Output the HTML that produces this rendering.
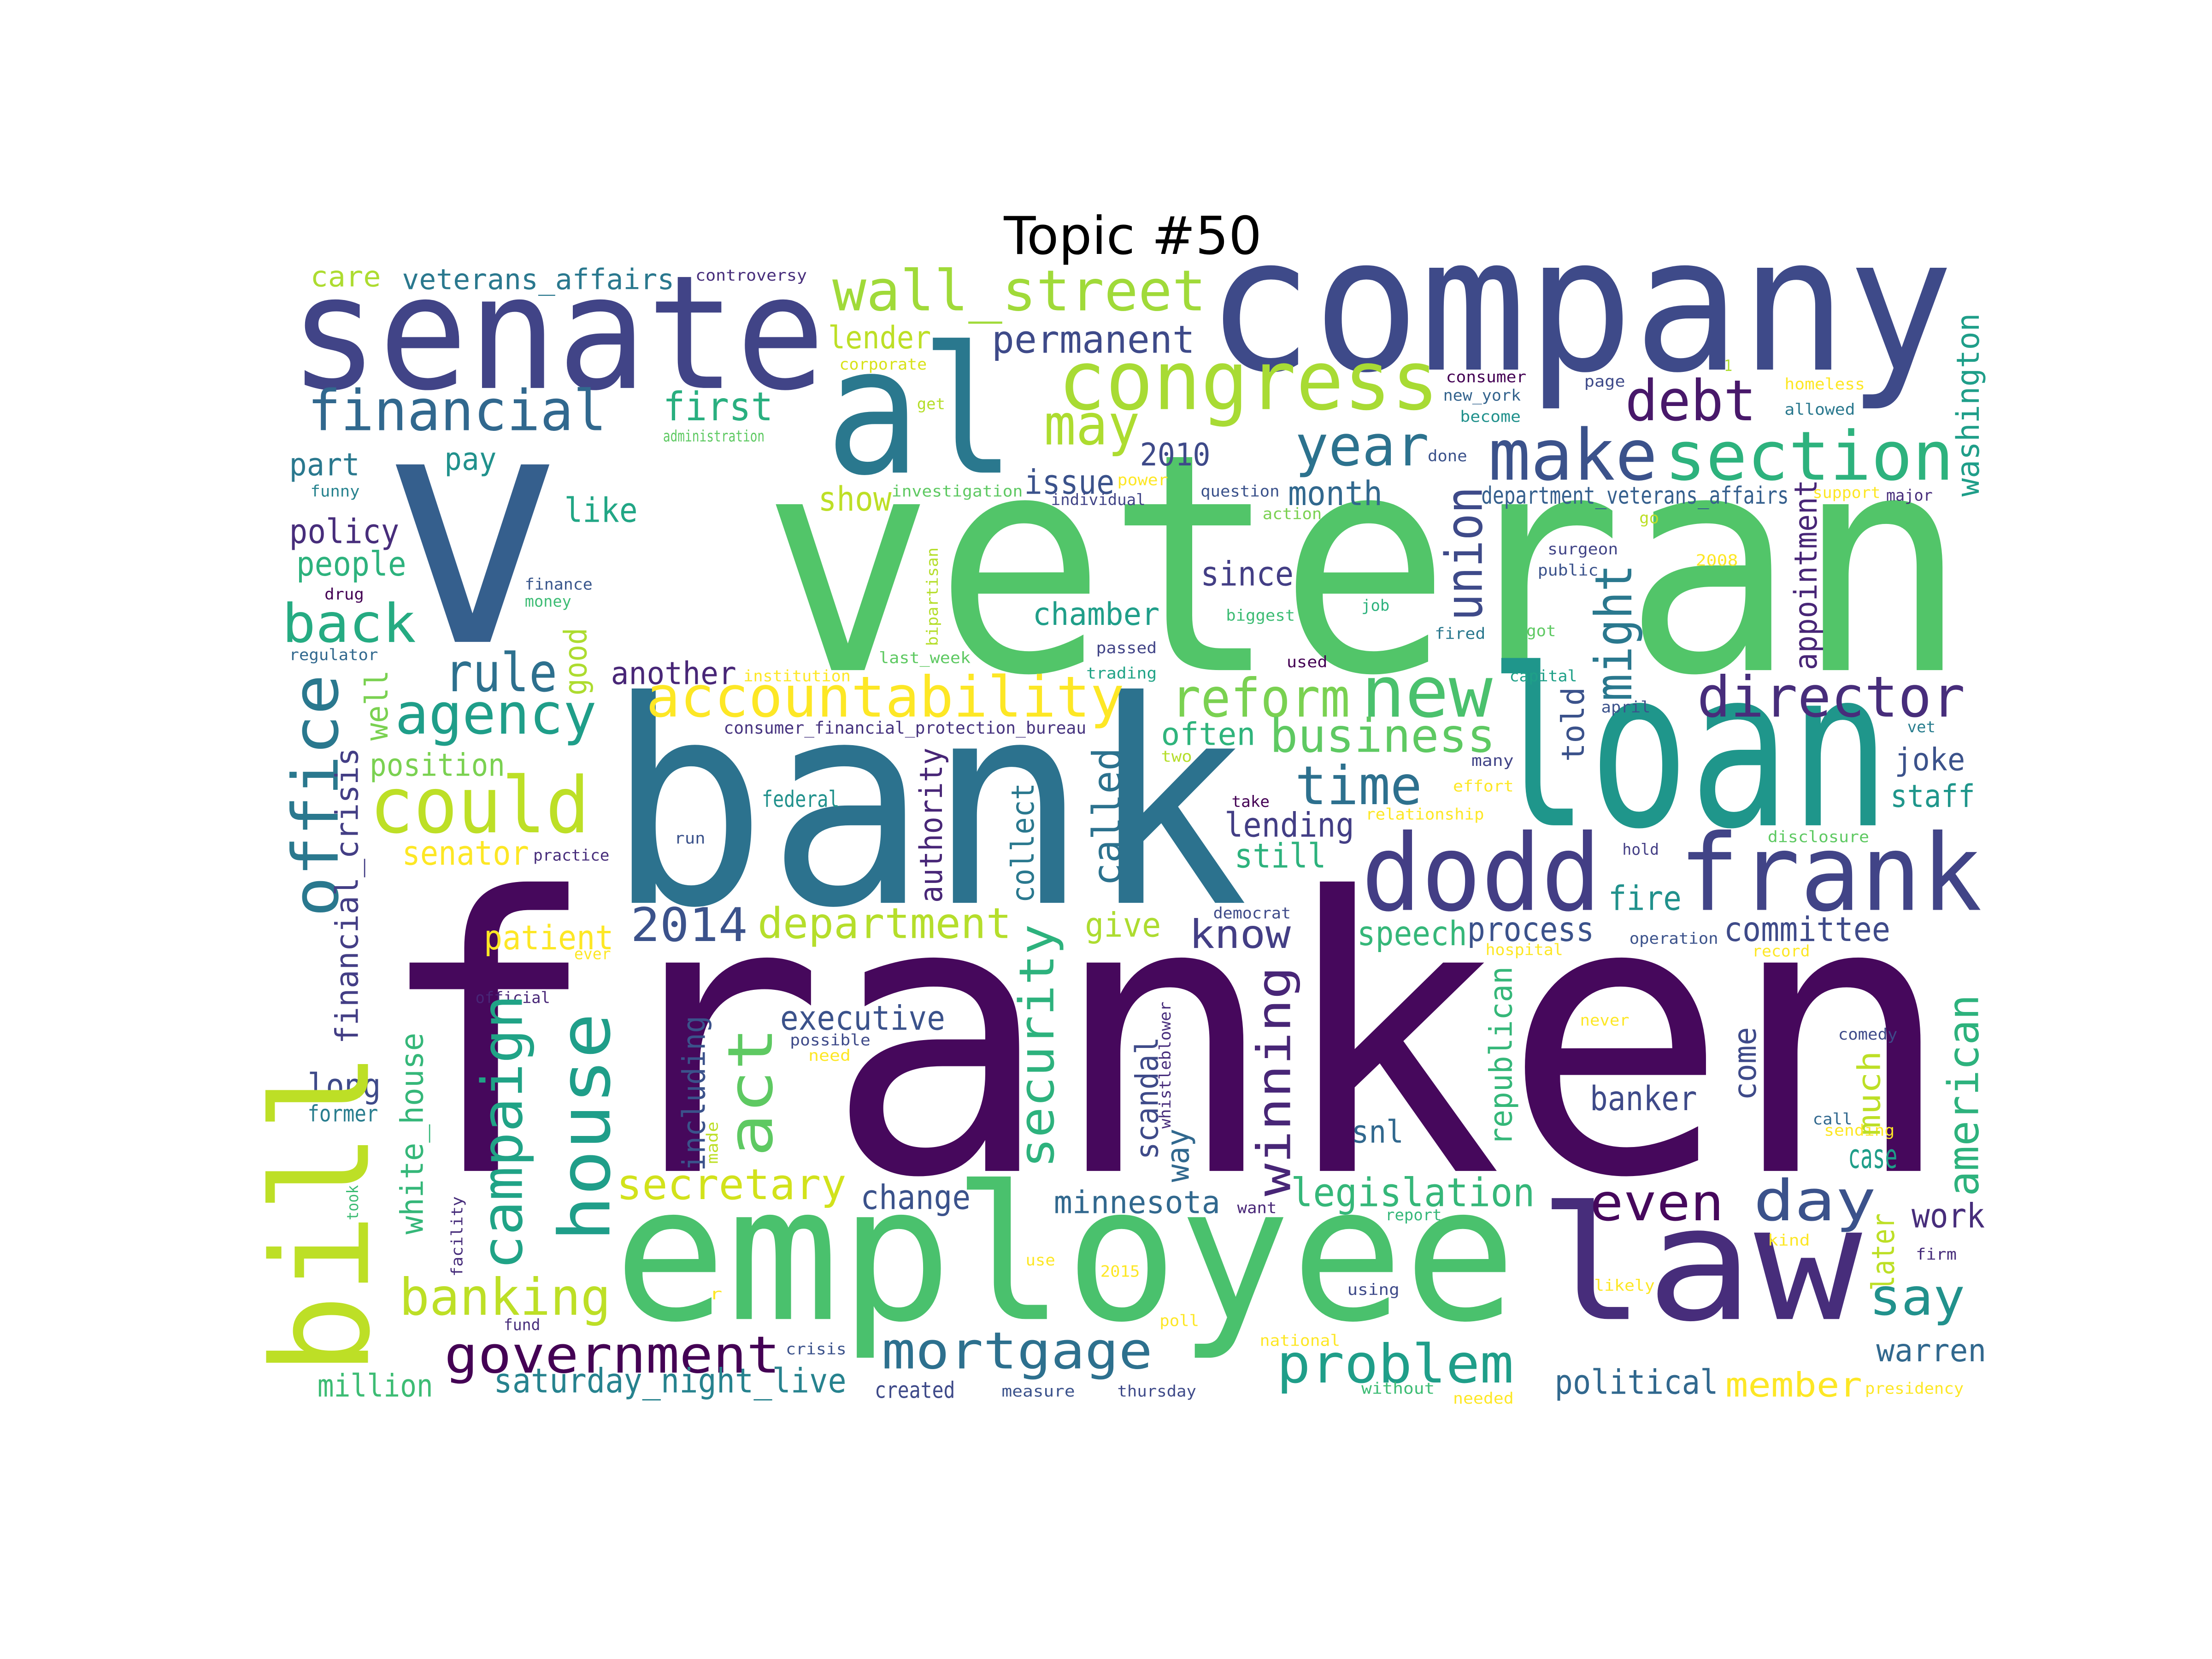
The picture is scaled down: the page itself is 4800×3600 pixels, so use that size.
<!DOCTYPE html>
<html><head><meta charset="utf-8"><title>Topic #50 word cloud</title>
<style>
html,body{margin:0;padding:0;background:#fff;}
#chart{display:block;width:4800px;height:3600px;}
text.w{font-family:"DejaVu Sans Mono","Liberation Mono",monospace;}
</style></head>
<body>
<svg id="chart" viewBox="0 0 1568 1176" width="4800" height="3600" xmlns="http://www.w3.org/2000/svg">
<rect x="0" y="0" width="1568" height="1176" fill="#ffffff"/>
<text x="803" y="180" text-anchor="middle" font-family="DejaVu Sans, Liberation Sans, sans-serif" font-size="37" fill="#000">Topic #50</text>
<g id="words"></g>
</svg>
<script>
// horizontal words: [text, left x, baseline y, font size, width, color]
const hWords = [
["franken",265,830,270,1120,"#46085c"],
["veteran",540,475,215,855,"#52c569"],
["v",270,455,230,130,"#355f8d"],
["bank",430,640,200,455,"#2c728e"],
["loan",1055,585,155,285,"#1f968b"],
["company",855,262,132,530,"#3e4a89"],
["senate",205,275,112,380,"#414487"],
["al",585,335,125,135,"#2a788e"],
["employee",435,935,132,640,"#4ac16d"],
["law",1090,935,112,230,"#472d7b"],
["dodd",965,645,75,170,"#433e85"],
["frank",1190,645,75,215,"#414487"],
["congress",750,290,58,270,"#a8db34"],
["wall_street",590,220,40,265,"#a0da39"],
["financial",218,305,40,212,"#31688e"],
["make",1055,340,50,120,"#3b528b"],
["section",1180,340,48,205,"#2db27d"],
["debt",1152,298,40,93,"#48186a"],
["year",918,330,40,95,"#2c728e"],
["may",740,315,40,68,"#addc30"],
["2010",808,330,22,50,"#3e4a89"],
["first",470,298,28,78,"#29af7f"],
["lender",587,247,22,73,"#bddf26"],
["permanent",703,250,27,144,"#3e4a89"],
["veterans_affairs",285,205,20,193,"#2a788e"],
["care",220,203,20,50,"#addc30"],
["controversy",493,199,11,79,"#472d7b"],
["corporate",595,262,11,62,"#d8e219"],
["get",650,290,11,20,"#b5de2b"],
["administration",470,313,11,72,"#5ec962"],
["part",205,337,22,50,"#2a788e"],
["pay",315,333,22,37,"#21918c"],
["funny",220,352,11,35,"#26828e"],
["like",400,370,24,52,"#21a685"],
["policy",205,385,24,78,"#472d7b"],
["people",210,408,24,78,"#2db27d"],
["finance",372,418,11,48,"#39568c"],
["money",372,430,11,33,"#3dbc74"],
["drug",230,425,11,28,"#440154"],
["back",200,455,38,95,"#25ab82"],
["regulator",205,468,11,63,"#31688e"],
["rule",315,490,38,80,"#2d708e"],
["agency",280,520,40,143,"#1f9e89"],
["could",262,590,55,156,"#bddf26"],
["position",262,550,22,96,"#7ad151"],
["senator",285,613,24,90,"#fde725"],
["practice",378,610,11,54,"#472d7b"],
["accountability",458,508,40,339,"#fde725"],
["consumer_financial_protection_bureau",513,520,12,257,"#46337f"],
["institution",527,483,11,76,"#fde725"],
["another",433,485,22,89,"#482677"],
["last_week",623,470,11,65,"#5ec962"],
["show",580,362,24,52,"#bddf26"],
["investigation",632,352,11,93,"#5ec962"],
["issue",726,350,24,64,"#3b528b"],
["individual",745,358,11,67,"#414487"],
["power",792,344,11,36,"#fde725"],
["question",851,352,11,56,"#3b528b"],
["action",895,368,11,42,"#7ad151"],
["month",913,358,24,67,"#31688e"],
["chamber",732,443,22,90,"#1f9e89"],
["since",851,415,24,66,"#433e85"],
["biggest",869,440,11,49,"#3dbc74"],
["passed",777,463,11,43,"#414487"],
["used",912,473,11,29,"#440154"],
["trading",770,481,11,50,"#20a386"],
["reform",830,508,38,127,"#7ad151"],
["new",965,508,50,93,"#4ac16d"],
["job",965,433,11,20,"#2db27d"],
["fired",1017,453,11,36,"#2a788e"],
["got",1082,451,11,21,"#5ec962"],
["capital",1070,483,11,48,"#1fa088"],
["april",1135,505,11,35,"#3b528b"],
["often",823,528,22,67,"#2fb47c"],
["business",900,533,33,160,"#5ec962"],
["two",823,540,11,22,"#b5de2b"],
["time",918,570,38,90,"#2d708e"],
["many",1043,543,11,30,"#414487"],
["effort",1030,561,11,43,"#fde725"],
["take",873,572,11,27,"#440154"],
["relationship",968,581,11,84,"#fde725"],
["lending",868,593,24,92,"#433e85"],
["still",875,615,24,65,"#2db27d"],
["director",1203,508,40,190,"#472d7b"],
["joke",1343,546,22,50,"#3b528b"],
["staff",1340,572,22,60,"#1f968b"],
["vet",1352,519,11,20,"#287d8e"],
["2008",1202,401,11,30,"#fde725"],
["surgeon",1097,393,11,50,"#414487"],
["public",1090,408,11,43,"#3b528b"],
["department_veterans_affairs",1050,357,17,218,"#355f8d"],
["support",1285,353,11,48,"#fde725"],
["major",1337,355,11,33,"#472d7b"],
["done",1012,327,11,28,"#3b528b"],
["go",1162,371,11,14,"#bddf26"],
["consumer",1025,271,11,57,"#440154"],
["new_york",1023,284,11,55,"#33638d"],
["become",1035,299,11,43,"#21918c"],
["1",1222,263,11,6,"#addc30"],
["page",1123,274,11,29,"#3e4a89"],
["homeless",1265,276,11,57,"#fde725"],
["allowed",1265,294,11,50,"#2a788e"],
["federal",540,572,16,55,"#21918c"],
["run",478,598,11,22,"#3b528b"],
["2014",447,667,33,83,"#3b528b"],
["department",537,665,30,180,"#b5de2b"],
["patient",343,673,24,92,"#fde725"],
["ever",407,680,11,26,"#fde725"],
["give",769,664,24,54,"#addc30"],
["hold",1150,606,11,26,"#433e85"],
["disclosure",1253,597,11,72,"#5ec962"],
["fire",1140,645,24,52,"#21918c"],
["democrat",860,651,11,55,"#3e4a89"],
["know",843,672,28,72,"#433e85"],
["speech",962,670,24,78,"#35b779"],
["process",1040,667,24,90,"#3b528b"],
["operation",1155,669,11,63,"#3b528b"],
["committee",1222,667,24,118,"#3e4a89"],
["hospital",1053,677,11,55,"#fde725"],
["record",1242,678,11,41,"#fde725"],
["executive",553,730,24,117,"#3b528b"],
["official",337,711,11,53,"#482677"],
["possible",560,741,11,57,"#3e4a89"],
["need",573,752,11,30,"#fde725"],
["long",218,778,24,52,"#3e4a89"],
["former",218,795,16,50,"#287d8e"],
["secretary",437,850,30,163,"#d2e21b"],
["change",610,857,24,78,"#3b528b"],
["minnesota",747,860,22,118,"#31688e"],
["want",877,860,11,28,"#482677"],
["legislation",915,855,28,173,"#35b779"],
["report",982,865,11,40,"#35b779"],
["never",1120,727,11,35,"#fde725"],
["comedy",1303,737,11,42,"#3e4a89"],
["banker",1127,787,24,76,"#3e4a89"],
["snl",958,810,22,37,"#31688e"],
["call",1285,797,11,28,"#31688e"],
["sending",1293,805,11,50,"#fde725"],
["case",1310,828,24,35,"#1f9e89"],
["day",1243,865,40,87,"#3b528b"],
["even",1127,865,36,95,"#46085c"],
["work",1355,870,24,52,"#472d7b"],
["firm",1358,893,11,29,"#472d7b"],
["kind",1253,883,11,30,"#fde725"],
["banking",283,932,36,150,"#bddf26"],
["fund",357,943,11,26,"#472d7b"],
["r",503,921,11,9,"#fde725"],
["use",727,897,11,21,"#fde725"],
["2015",780,905,11,28,"#fde725"],
["poll",822,940,11,28,"#fde725"],
["using",955,918,11,37,"#3e4a89"],
["likely",1130,915,11,43,"#fde725"],
["say",1325,932,36,68,"#21918c"],
["national",893,954,11,57,"#fde725"],
["warren",1330,965,22,78,"#31688e"],
["government",315,973,36,238,"#440154"],
["crisis",557,960,11,43,"#3b528b"],
["mortgage",625,970,36,192,"#2d708e"],
["problem",905,980,38,168,"#1f9e89"],
["political",1102,988,24,116,"#31688e"],
["member",1223,990,24,97,"#fde725"],
["presidency",1322,988,11,70,"#fde725"],
["million",225,990,22,82,"#3dbc74"],
["saturday_night_live",350,987,24,250,"#26828e"],
["created",620,991,16,57,"#3e4a89"],
["measure",710,990,11,52,"#3b528b"],
["thursday",792,990,11,56,"#3e4a89"],
["without",965,988,11,52,"#3dbc74"],
["needed",1030,995,11,43,"#fde725"]
];
// vertical words (read bottom-to-top): [text, column center x, bottom y, top y, font size, color]
const vWords = [
["bill",228,975,745,95,"#bddf26"],
["office",224,650,478,45,"#2a788e"],
["good",408,493,445,22,"#addc30"],
["well",267,525,475,22,"#7ad151"],
["financial_crisis",246,740,530,22,"#433e85"],
["bipartisan",661,458,388,11,"#b5de2b"],
["union",1038,440,345,36,"#3e4a89"],
["might",1144,497,400,36,"#2a788e"],
["told",1115,540,487,22,"#3b528b"],
["appointment",1280,475,340,22,"#482677"],
["washington",1395,352,222,22,"#1f9e89"],
["authority",660,640,530,22,"#482677"],
["collect",725,640,555,22,"#2a788e"],
["called",785,628,530,28,"#2c728e"],
["security",735,828,655,34,"#2db27d"],
["winning",903,848,685,33,"#482677"],
["house",415,880,718,50,"#1f9e89"],
["campaign",356,900,705,40,"#20a386"],
["act",532,820,728,44,"#5ec962"],
["including",492,830,720,22,"#3b528b"],
["made",505,825,795,11,"#bddf26"],
["whistleblower",826,800,710,11,"#472d7b"],
["scandal",813,822,735,22,"#3e4a89"],
["way",835,838,800,22,"#31688e"],
["white_house",292,875,732,22,"#35b779"],
["took",250,865,840,11,"#3dbc74"],
["facility",324,905,848,11,"#472d7b"],
["republican",1064,812,685,22,"#35b779"],
["come",1237,780,728,22,"#3e4a89"],
["much",1325,805,745,22,"#bddf26"],
["american",1392,848,705,30,"#2db27d"],
["later",1335,915,860,22,"#bddf26"]
];
const NS = "http://www.w3.org/2000/svg";
const layer = document.getElementById("words");
function slug(s){return s.replace(/[^a-z0-9]+/gi,"-").toLowerCase();}
hWords.forEach(function(w){
  const t = document.createElementNS(NS,"text");
  t.setAttribute("class","w");
  t.setAttribute("x", w[1]);
  t.setAttribute("y", w[2]);
  t.setAttribute("font-size", w[3]);
  t.setAttribute("textLength", w[4]);
  t.setAttribute("lengthAdjust","spacingAndGlyphs");
  t.setAttribute("fill", w[5]);
  t.textContent = w[0];
  
  
  layer.appendChild(t);
});
vWords.forEach(function(w){
  const t = document.createElementNS(NS,"text");
  t.setAttribute("class","w");
  t.setAttribute("x", 0);
  t.setAttribute("y", 0);
  t.setAttribute("dominant-baseline","central");
  t.setAttribute("font-size", w[4]);
  t.setAttribute("textLength", w[2]-w[3]);
  t.setAttribute("lengthAdjust","spacingAndGlyphs");
  t.setAttribute("fill", w[5]);
  t.setAttribute("transform","translate("+w[1]+","+w[2]+") rotate(-90)");
  t.textContent = w[0];
  
  
  layer.appendChild(t);
});
</script>
</body></html>
